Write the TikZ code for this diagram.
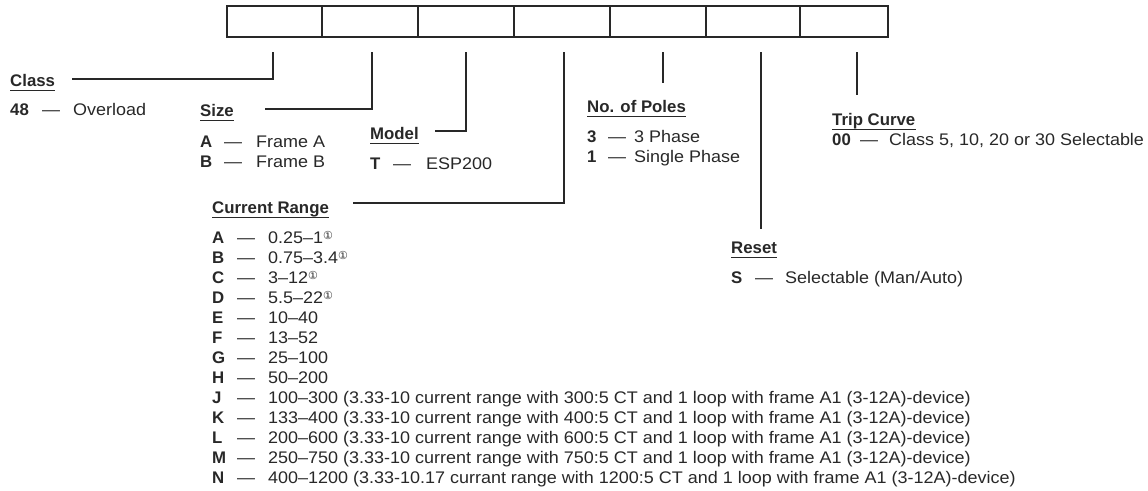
\documentclass[tikz,border=0pt]{standalone}
\usepackage{fontspec}
\setmainfont{Liberation Sans}[UprightFeatures={FakeStretch=1.07}]
\newfontfamily\symfont{DejaVu Sans}
\usetikzlibrary{positioning}

\definecolor{ink}{RGB}{40,40,40}
\newlength\optkey
\newlength\optdash
\newcommand{\opt}[2]{\strut\makebox[\optkey][l]{\bfseries #1}\makebox[\optdash][l]{—}#2}
\newcommand{\fn}{\raisebox{3.5pt}{\symfont\fontsize{11}{11}\selectfont ①}}

\begin{document}
\begin{tikzpicture}[
    x=1pt, y=-1pt, color=ink,
    font=\fontsize{16.8}{20}\selectfont,
    cell/.style={draw=ink, line width=1.3pt, minimum height=31pt,
                 inner sep=0pt, outer sep=0pt},
    head/.style={font=\fontsize{16.8}{20}\selectfont\bfseries,
                 inner sep=0pt, anchor=base west},
    list/.style 2 args={align=left, inner sep=0pt, anchor=north west,
                 execute at begin node={\setlength\optkey{#1}\setlength\optdash{#2}}},
    lead/.style={draw=ink, line width=1.2pt},
    uline/.style={draw=ink, line width=1pt}
  ]
    \useasboundingbox (0,0) rectangle (1148,490);

    % catalogue number boxes
    \node[cell, anchor=north west, minimum width=95pt] (c1) at (227,6) {};
    \node[cell, minimum width=96pt, right=0pt of c1] (c2) {};
    \node[cell, minimum width=96pt, right=0pt of c2] (c3) {};
    \node[cell, minimum width=96pt, right=0pt of c3] (c4) {};
    \node[cell, minimum width=96pt, right=0pt of c4] (c5) {};
    \node[cell, minimum width=94pt, right=0pt of c5] (c6) {};
    \node[cell, minimum width=88pt, right=0pt of c6] (c7) {};

    % headings
    \node[head] (cls)   at (10,86)   {Class};
    \node[head] (size)  at (200,116) {Size};
    \node[head] (model) at (370,139) {Model};
    \node[head] (range) at (212,213) {Current Range};
    \node[head] (poles) at (587,112) {No. of Poles};
    \node[head] (reset) at (731,253) {Reset};
    \node[head] (trip)  at (832,125) {Trip Curve};

    \foreach \h in {cls,size,model,range,poles,reset,trip}
      \draw[uline] ([yshift=-4.5pt]\h.base west) -- ([yshift=-4.5pt]\h.base east);

    % options
    \node[list={32pt}{31pt}] (clsopt)   at (10,101)  {\opt{48}{Overload}};
    \node[list={24pt}{32pt}] (sizeopt)  at (200,133) {\opt{A}{Frame A}\\\opt{B}{Frame B}};
    \node[list={23pt}{33pt}] (modelopt) at (370,155) {\opt{T}{ESP200}};
    \node[list={21pt}{26pt}] (polesopt) at (587,128) {\opt{3}{3 Phase}\\\opt{1}{Single Phase}};
    \node[list={24pt}{30pt}] (resetopt) at (731,269) {\opt{S}{Selectable (Man/Auto)}};
    \node[list={28pt}{29pt}] (tripopt)  at (832,131) {\opt{00}{Class 5, 10, 20 or 30 Selectable}};
    \node[list={25pt}{31pt}] (rangeopt) at (212,229) {%
      \opt{A}{0.25–1\fn}\\
      \opt{B}{0.75–3.4\fn}\\
      \opt{C}{3–12\fn}\\
      \opt{D}{5.5–22\fn}\\
      \opt{E}{10–40}\\
      \opt{F}{13–52}\\
      \opt{G}{25–100}\\
      \opt{H}{50–200}\\
      \opt{J}{100–300 (3.33-10 current range with 300:5 CT and 1 loop with frame A1 (3-12A)-device)}\\
      \opt{K}{133–400 (3.33-10 current range with 400:5 CT and 1 loop with frame A1 (3-12A)-device)}\\
      \opt{L}{200–600 (3.33-10 current range with 600:5 CT and 1 loop with frame A1 (3-12A)-device)}\\
      \opt{M}{250–750 (3.33-10 current range with 750:5 CT and 1 loop with frame A1 (3-12A)-device)}\\
      \opt{N}{400–1200 (3.33-10.17 currant range with 1200:5 CT and 1 loop with frame A1 (3-12A)-device)}};

    % leader lines
    \coordinate (t1) at (273,52);  \coordinate (e1) at (72,79);
    \coordinate (t2) at (372,52);  \coordinate (e2) at (265,109);
    \coordinate (t3) at (466,52);  \coordinate (e3) at (435,131);
    \coordinate (t4) at (564,52);  \coordinate (e4) at (353,203);
    \coordinate (t5) at (663,52);  \coordinate (e5) at (663,83);
    \coordinate (t6) at (761,52);  \coordinate (e6) at (761,229);
    \coordinate (t7) at (857,52);  \coordinate (e7) at (857,95);

    \draw[lead] (t1) |- (e1);
    \draw[lead] (t2) |- (e2);
    \draw[lead] (t3) |- (e3);
    \draw[lead] (t4) |- (e4);
    \draw[lead] (t5) -- (e5);
    \draw[lead] (t6) -- (e6);
    \draw[lead] (t7) -- (e7);
\end{tikzpicture}
\end{document}
